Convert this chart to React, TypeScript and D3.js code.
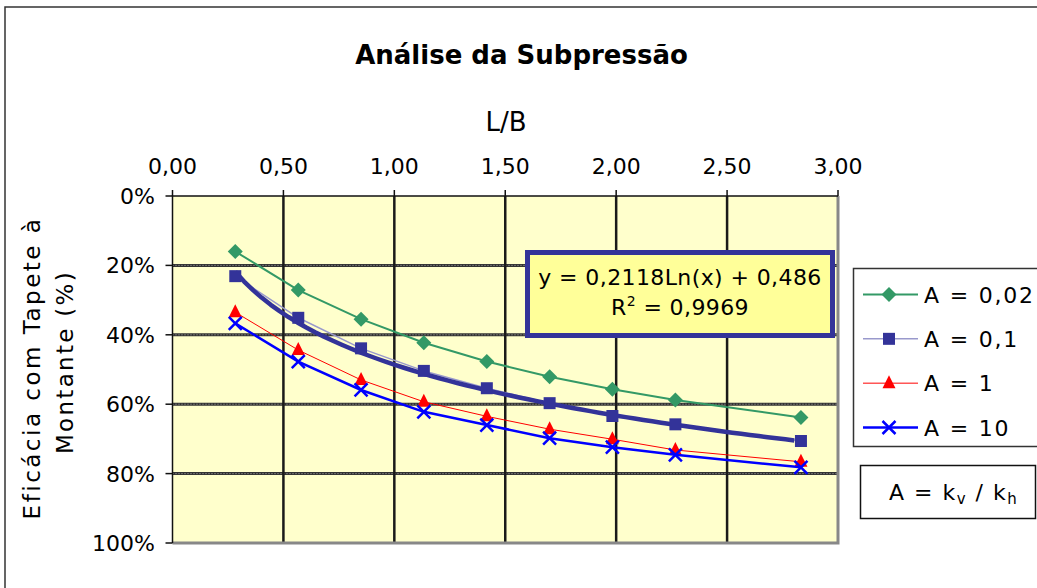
import * as d3 from "d3";
import { useEffect, useRef } from "react";

// L/B values (x) and efficiency per A = kv/kh (y, fraction)
const lb = [0.283, 0.567, 0.85, 1.133, 1.417, 1.7, 1.983, 2.267, 2.833];
const a002 = [0.16, 0.271, 0.355, 0.423, 0.477, 0.521, 0.557, 0.588, 0.638];
const a01 = [0.231, 0.351, 0.439, 0.504, 0.554, 0.597, 0.634, 0.658, 0.706];
const a1 = [0.335, 0.444, 0.53, 0.593, 0.635, 0.672, 0.701, 0.732, 0.766];
const a10 = [0.367, 0.477, 0.559, 0.622, 0.66, 0.698, 0.724, 0.746, 0.782];
const seriesNames = ["A = 0,02", "A = 0,1", "A = 1", "A = 10"];
// log trendline shown for A = 0,1: y = a*ln(x) + b
const trendCoef = [0.2118, 0.486];
const xTicks = [0, 0.5, 1, 1.5, 2, 2.5, 3];
const yTicks = [0, 0.2, 0.4, 0.6, 0.8, 1];

const FONT = "'DejaVu Sans', Verdana, sans-serif";

const markerPath = (kind: string) => {
  if (kind === "diamond") return "M0,-7.5L7.5,0L0,7.5L-7.5,0Z";
  if (kind === "square") return "M-6,-6H6V6H-6Z";
  if (kind === "triangle") return "M0,-8L6.5,5L-6.5,5Z";
  return "M-6.5,-6.5L6.5,6.5M6.5,-6.5L-6.5,6.5";
};

export default function App() {
  const ref = useRef<SVGSVGElement>(null);

  useEffect(() => {
    const svg = d3.select(ref.current);
    svg.selectAll("*").remove();

    const x = d3.scaleLinear().domain([0, 3]).range([172.5, 838]);
    const y = d3.scaleLinear().domain([0, 1]).range([196, 543]);
    const [x0, x1] = x.range();
    const [y0, y1] = y.range();

    const series = [
      { name: seriesNames[0], vals: a002, color: "#339966", line: "#339966", width: 2, marker: "diamond" },
      { name: seriesNames[1], vals: a01, color: "#333399", line: "#9999CC", width: 1.5, marker: "square" },
      { name: seriesNames[2], vals: a1, color: "#FF0000", line: "#FF0000", width: 1, marker: "triangle" },
      { name: seriesNames[3], vals: a10, color: "#0000FF", line: "#0000FF", width: 2.5, marker: "x" },
    ];

    // outer chart frame
    svg.append("rect")
      .attr("x", 5).attr("y", 7).attr("width", 1100).attr("height", 700)
      .attr("fill", "white").attr("stroke", "#333").attr("stroke-width", 1.5);

    // title
    svg.append("text")
      .attr("x", 521.5).attr("y", 64)
      .attr("text-anchor", "middle")
      .attr("font-family", FONT).attr("font-size", 26).attr("font-weight", "bold")
      .text("Análise da Subpressão");

    // plot area
    svg.append("rect")
      .attr("x", x0).attr("y", y0).attr("width", x1 - x0).attr("height", y1 - y0)
      .attr("fill", "#FFFFCC");

    const grid = svg.append("g");
    grid.selectAll("line.h")
      .data(yTicks.slice(1, -1))
      .join("line")
      .attr("x1", x0).attr("x2", x1)
      .attr("y1", (d) => y(d)).attr("y2", (d) => y(d))
      .attr("stroke", "#333").attr("stroke-width", 3);
    grid.selectAll("line.hd")
      .data(yTicks.slice(1, -1))
      .join("line")
      .attr("x1", x0).attr("x2", x1)
      .attr("y1", (d) => y(d)).attr("y2", (d) => y(d))
      .attr("stroke", "#aaa").attr("stroke-width", 1).attr("stroke-dasharray", "1,2");
    grid.selectAll("line.v")
      .data(xTicks.slice(1, -1))
      .join("line")
      .attr("x1", (d) => x(d)).attr("x2", (d) => x(d))
      .attr("y1", y0).attr("y2", y1)
      .attr("stroke", "#1a1a1a").attr("stroke-width", 2.5);

    // gray right/bottom border, black axes
    svg.append("path")
      .attr("d", `M${x1},${y0}V${y1}H${x0}`)
      .attr("fill", "none").attr("stroke", "#888").attr("stroke-width", 3);
    svg.append("path")
      .attr("d", `M${x0},${y1}V${y0}H${x1}`)
      .attr("fill", "none").attr("stroke", "#111").attr("stroke-width", 1.5);

    // x axis (top)
    const xa = svg.append("g").attr("font-family", FONT).attr("font-size", 22);
    xa.selectAll("line")
      .data(xTicks)
      .join("line")
      .attr("x1", (d) => x(d)).attr("x2", (d) => x(d))
      .attr("y1", y0 - 6).attr("y2", y0)
      .attr("stroke", "#111").attr("stroke-width", 1.5);
    xa.selectAll("text")
      .data(xTicks)
      .join("text")
      .attr("x", (d) => x(d)).attr("y", 174)
      .attr("text-anchor", "middle")
      .text((d) => d3.format(".2f")(d).replace(".", ","));
    xa.append("text")
      .attr("x", 506).attr("y", 131).attr("text-anchor", "middle")
      .attr("font-size", 26)
      .text("L/B");

    // y axis (left, reversed)
    const ya = svg.append("g").attr("font-family", FONT).attr("font-size", 22);
    ya.selectAll("line")
      .data(yTicks)
      .join("line")
      .attr("x1", x0 - 7).attr("x2", x0)
      .attr("y1", (d) => y(d)).attr("y2", (d) => y(d))
      .attr("stroke", "#111").attr("stroke-width", 1.5);
    ya.selectAll("text")
      .data(yTicks)
      .join("text")
      .attr("x", 155).attr("y", (d) => y(d) + 8)
      .attr("text-anchor", "end")
      .text((d) => d3.format(".0%")(d));
    ya.append("text")
      .attr("transform", "translate(40,368) rotate(-90)")
      .attr("text-anchor", "middle").attr("font-size", 23).attr("letter-spacing", 2.5)
      .text("Eficácia com Tapete à");
    ya.append("text")
      .attr("transform", "translate(73,362) rotate(-90)")
      .attr("text-anchor", "middle").attr("font-size", 23).attr("letter-spacing", 2.3)
      .text("Montante (%)");

    // series
    const line = d3.line<number>()
      .x((_, i) => x(lb[i]))
      .y((d) => y(d));

    const trendX = d3.range(lb[0], lb[lb.length - 1] + 0.001, 0.04);
    const trendLine = d3.line<number>()
      .x((d) => x(d))
      .y((d) => y(trendCoef[0] * Math.log(d) + trendCoef[1]));

    series.forEach((s, k) => {
      const g = svg.append("g");
      g.append("path")
        .attr("d", line(s.vals))
        .attr("fill", "none")
        .attr("stroke", s.line)
        .attr("stroke-width", s.width);
      if (k === 1) {
        g.append("path")
          .attr("d", trendLine(trendX))
          .attr("fill", "none")
          .attr("stroke", "#333399")
          .attr("stroke-width", 4.5)
          .attr("stroke-linejoin", "round");
      }
      g.selectAll("path.m")
        .data(s.vals)
        .join("path")
        .attr("class", "m")
        .attr("transform", (d, i) => `translate(${x(lb[i])},${y(d)})`)
        .attr("d", markerPath(s.marker))
        .attr("fill", s.marker === "x" ? "none" : s.color)
        .attr("stroke", s.marker === "x" ? s.color : "none")
        .attr("stroke-width", 2.5);
    });

    // trendline equation box
    const eq = svg.append("g").attr("font-family", FONT).attr("font-size", 22);
    eq.append("rect")
      .attr("x", 527.5).attr("y", 252.5).attr("width", 305).attr("height", 83)
      .attr("fill", "#FFFF99").attr("stroke", "#333399").attr("stroke-width", 5);
    eq.append("text")
      .attr("x", 680).attr("y", 285).attr("text-anchor", "middle").attr("letter-spacing", 0.4)
      .text(`y = ${String(trendCoef[0]).replace(".", ",")}Ln(x) + ${String(trendCoef[1]).replace(".", ",")}`);
    const r2 = eq.append("text")
      .attr("x", 680).attr("y", 315).attr("text-anchor", "middle").attr("letter-spacing", 0.4);
    r2.append("tspan").text("R");
    r2.append("tspan").attr("font-size", 14).attr("dy", -9).text("2");
    r2.append("tspan").attr("dy", 9).text(" = 0,9969");

    // legend
    const lg = svg.append("g").attr("font-family", FONT).attr("font-size", 22);
    lg.append("rect")
      .attr("x", 853.5).attr("y", 268.5).attr("width", 250).attr("height", 178)
      .attr("fill", "white").attr("stroke", "#333").attr("stroke-width", 1.5);
    const ly = d3.scalePoint<string>().domain(seriesNames).range([294.5, 427.5]);
    series.forEach((s) => {
      const cy = ly(s.name) ?? 0;
      lg.append("line")
        .attr("x1", 863).attr("x2", 918).attr("y1", cy).attr("y2", cy)
        .attr("stroke", s.line).attr("stroke-width", s.width);
      lg.append("path")
        .attr("transform", `translate(889,${cy})`)
        .attr("d", markerPath(s.marker))
        .attr("fill", s.marker === "x" ? "none" : s.color)
        .attr("stroke", s.marker === "x" ? s.color : "none")
        .attr("stroke-width", 2.5);
      lg.append("text")
        .attr("x", 924).attr("y", cy + 8).attr("letter-spacing", 1.8)
        .text(s.name);
    });

    // A = kv / kh note
    lg.append("rect")
      .attr("x", 860.5).attr("y", 465.5).attr("width", 175).attr("height", 53)
      .attr("fill", "white").attr("stroke", "#111").attr("stroke-width", 1.5);
    const note = lg.append("text").attr("x", 889).attr("y", 500).attr("letter-spacing", 1.5);
    note.append("tspan").text("A = k");
    note.append("tspan").attr("font-size", 15).attr("dy", 4).text("v");
    note.append("tspan").attr("dy", -4).text(" / k");
    note.append("tspan").attr("font-size", 15).attr("dy", 4).text("h");
  }, []);

  return (
    <svg
      ref={ref}
      width={1037}
      height={588}
      style={{ position: "fixed", left: 0, top: 0, background: "white" }}
    />
  );
}
